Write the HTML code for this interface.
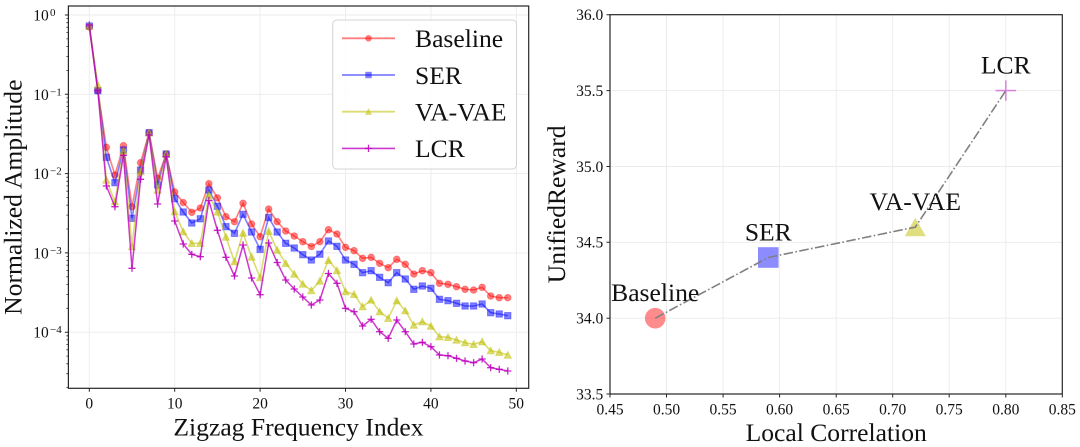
<!DOCTYPE html>
<html><head><meta charset="utf-8"><style>
html,body{margin:0;padding:0;background:#fff;}
svg{display:block;}
text{font-family:"Liberation Serif","Times New Roman",serif;fill:#111;}
</style></head><body>
<svg width="1080" height="447" viewBox="0 0 1080 447" xmlns="http://www.w3.org/2000/svg">
<defs>
<marker id="mr" viewBox="-6 -6 12 12" markerWidth="12" markerHeight="12" refX="0" refY="0" markerUnits="userSpaceOnUse"><circle r="3.3" fill="#ff0000" fill-opacity="0.5" stroke="#ff0000" stroke-opacity="0.35" stroke-width="1"/></marker>
<marker id="mb" viewBox="-6 -6 12 12" markerWidth="12" markerHeight="12" refX="0" refY="0" markerUnits="userSpaceOnUse"><rect x="-3.2" y="-3.2" width="6.4" height="6.4" fill="#0000ff" fill-opacity="0.5" stroke="#0000ff" stroke-opacity="0.35" stroke-width="1"/></marker>
<marker id="my" viewBox="-6 -6 12 12" markerWidth="12" markerHeight="12" refX="0" refY="0" markerUnits="userSpaceOnUse"><polygon points="0,-3.6 -3.6,3.2 3.6,3.2" fill="#bfbf00" fill-opacity="0.55" stroke="#bfbf00" stroke-opacity="0.4" stroke-width="1"/></marker>
<marker id="mm" viewBox="-6 -6 12 12" markerWidth="12" markerHeight="12" refX="0" refY="0" markerUnits="userSpaceOnUse"><path d="M-3.6 0H3.6M0 -3.6V3.6" stroke="#bf00bf" stroke-opacity="0.85" stroke-width="1.3" fill="none"/></marker>
</defs>

<!-- ============ LEFT CHART ============ -->
<g stroke="#ebebeb" stroke-width="0.9">
<path d="M89.3 6V388.3M174.7 6V388.3M260.1 6V388.3M345.5 6V388.3M430.9 6V388.3M516.3 6V388.3"/>
<path d="M68.4 15H528.7M68.4 94.3H528.7M68.4 173.6H528.7M68.4 252.9H528.7M68.4 332.2H528.7"/>
</g>

<polyline fill="none" stroke="#ff0000" stroke-opacity="0.5" stroke-width="1.6" marker-start="url(#mr)" marker-mid="url(#mr)" marker-end="url(#mr)" points="89.3,27 97.84,90.7 106.38,147.3 114.92,175 123.46,145.7 132,206.7 140.54,162.7 149.08,132.7 157.62,178.3 166.16,154 174.7,192 183.24,202.5 191.78,212.3 200.32,208 208.86,183.7 217.4,197.8 225.94,216.7 234.48,221.7 243.02,203.3 251.56,224 260.1,236.7 268.64,209 277.18,221.7 285.72,231 294.26,236 302.8,241.7 311.34,246.5 319.88,241.7 328.42,229.7 336.96,234 345.5,247.3 354.04,250.7 362.58,258.3 371.12,257.3 379.66,263.3 388.2,267.7 396.74,259.3 405.28,264.3 413.82,274 422.36,270.7 430.9,272.7 439.44,283.3 447.98,284.3 456.52,286.7 465.06,289.3 473.6,290 482.14,287.3 490.68,296 499.22,297.7 507.76,297.7"/>

<polyline fill="none" stroke="#0000ff" stroke-opacity="0.5" stroke-width="1.6" marker-start="url(#mb)" marker-mid="url(#mb)" marker-end="url(#mb)" points="89.3,26 97.84,90.7 106.38,157.3 114.92,182.7 123.46,150 132,218.3 140.54,170 149.08,132.7 157.62,185 166.16,154 174.7,198.7 183.24,212 191.78,223 200.32,218.8 208.86,190 217.4,206.3 225.94,226.7 234.48,233.3 243.02,214.3 251.56,232 260.1,249.3 268.64,217.5 277.18,232 285.72,243.3 294.26,248 302.8,254.7 311.34,260 319.88,254.2 328.42,241 336.96,246.3 345.5,260 354.04,264.3 362.58,272.7 371.12,270.7 379.66,277.3 388.2,282.7 396.74,272.7 405.28,279 413.82,289.3 422.36,286 430.9,288.3 439.44,299.3 447.98,300.7 456.52,303.3 465.06,306 473.6,306 482.14,304 490.68,312.7 499.22,314 507.76,315.7"/>

<polyline fill="none" stroke="#bfbf00" stroke-opacity="0.55" stroke-width="1.6" marker-start="url(#my)" marker-mid="url(#my)" marker-end="url(#my)" points="89.3,26 97.84,85 106.38,180 114.92,201.7 123.46,150.7 132,246.7 140.54,171.7 149.08,132.7 157.62,190 166.16,154 174.7,211.7 183.24,231.7 191.78,243.3 200.32,243.3 208.86,195 217.4,212 225.94,237 234.48,261.7 243.02,233 251.56,257 260.1,277.5 268.64,231.3 277.18,250 285.72,263.3 294.26,274 302.8,284 311.34,290.5 319.88,281 328.42,260.3 336.96,270.5 345.5,291.7 354.04,294.3 362.58,306.7 371.12,300 379.66,311.7 388.2,318.3 396.74,300.7 405.28,310.7 413.82,325 422.36,321.7 430.9,326 439.44,336.7 447.98,337.3 456.52,340 465.06,342.7 473.6,344.3 482.14,341.7 490.68,350.7 499.22,352.3 507.76,355"/>

<polyline fill="none" stroke="#bf00bf" stroke-opacity="0.78" stroke-width="1.5" marker-start="url(#mm)" marker-mid="url(#mm)" marker-end="url(#mm)" points="89.3,25 97.84,90.7 106.38,186 114.92,206.7 123.46,155.3 132,268.3 140.54,179.3 149.08,135 157.62,204 166.16,156.7 174.7,221 183.24,244 191.78,254.3 200.32,256.7 208.86,200.5 217.4,230.3 225.94,257.3 234.48,276 243.02,245 251.56,278 260.1,294.7 268.64,243 277.18,262.5 285.72,280 294.26,289 302.8,297 311.34,305 319.88,300 328.42,273.5 336.96,283.3 345.5,308.3 354.04,311.7 362.58,326 371.12,319.3 379.66,331.7 388.2,338.3 396.74,320 405.28,331.7 413.82,344 422.36,342.3 430.9,346.7 439.44,355 447.98,355.7 456.52,358.3 465.06,361 473.6,362.7 482.14,359 490.68,367.7 499.22,369.3 507.76,371"/>

<!-- spines & ticks -->
<rect x="68.4" y="6" width="460.3" height="382.3" fill="none" stroke="#262626" stroke-width="1.2"/>
<g stroke="#262626" stroke-width="1">
<path d="M89.3 388.3v3.5M174.7 388.3v3.5M260.1 388.3v3.5M345.5 388.3v3.5M430.9 388.3v3.5M516.3 388.3v3.5"/>
<path d="M68.4 15h-3.5M68.4 94.3h-3.5M68.4 173.6h-3.5M68.4 252.9h-3.5M68.4 332.2h-3.5"/>
<path stroke-width="0.8" d="M68.4 387.6h-2M68.4 373.7h-2M68.4 363.8h-2M68.4 356.1h-2M68.4 349.8h-2M68.4 344.5h-2M68.4 339.9h-2M68.4 335.8h-2M68.4 308.3h-2M68.4 294.4h-2M68.4 284.5h-2M68.4 276.8h-2M68.4 270.5h-2M68.4 265.2h-2M68.4 260.6h-2M68.4 256.5h-2M68.4 229h-2M68.4 215.1h-2M68.4 205.2h-2M68.4 197.5h-2M68.4 191.2h-2M68.4 185.9h-2M68.4 181.3h-2M68.4 177.2h-2M68.4 149.7h-2M68.4 135.8h-2M68.4 125.9h-2M68.4 118.2h-2M68.4 111.9h-2M68.4 106.6h-2M68.4 102h-2M68.4 97.9h-2M68.4 70.4h-2M68.4 56.5h-2M68.4 46.6h-2M68.4 38.9h-2M68.4 32.6h-2M68.4 27.3h-2M68.4 22.7h-2M68.4 18.6h-2"/>
</g>

<!-- left tick labels -->
<g font-size="15.5" text-anchor="middle">
<text x="89.3" y="408.5">0</text>
<text x="174.7" y="408.5">10</text>
<text x="260.1" y="408.5">20</text>
<text x="345.5" y="408.5">30</text>
<text x="430.9" y="408.5">40</text>
<text x="516.3" y="408.5">50</text>
</g>
<g font-size="15.5">
<text x="33.3" y="20.5">10</text>
<text x="33.3" y="99.8">10</text>
<text x="33.3" y="179.1">10</text>
<text x="33.3" y="258.4">10</text>
<text x="33.3" y="337.7">10</text>
</g>
<g font-size="11">
<text x="50" y="16">0</text>
<text x="50" y="95.3">−1</text>
<text x="50" y="174.6">−2</text>
<text x="50" y="253.9">−3</text>
<text x="50" y="333.2">−4</text>
</g>

<text x="298.5" y="435.5" font-size="25.6" text-anchor="middle">Zigzag Frequency Index</text>
<text transform="translate(21.5,197.2) rotate(-90)" x="0" y="0" font-size="25.6" text-anchor="middle">Normalized Amplitude</text>

<!-- legend -->
<rect x="332.7" y="20" width="183.8" height="149" rx="4" ry="4" fill="#fff" fill-opacity="0.85" stroke="#d4d4d4" stroke-width="1"/>
<path d="M342 38.3H395" stroke="#ff0000" stroke-opacity="0.5" stroke-width="1.8"/>
<circle cx="368.5" cy="38.3" r="3.3" fill="#ff0000" fill-opacity="0.5"/>
<path d="M342 75H395" stroke="#0000ff" stroke-opacity="0.5" stroke-width="1.8"/>
<rect x="365.3" y="71.8" width="6.4" height="6.4" fill="#0000ff" fill-opacity="0.5"/>
<path d="M342 111.7H395" stroke="#bfbf00" stroke-opacity="0.55" stroke-width="1.8"/>
<polygon points="368.5,108.1 364.9,114.9 372.1,114.9" fill="#bfbf00" fill-opacity="0.55"/>
<path d="M342 148.4H395" stroke="#bf00bf" stroke-opacity="0.78" stroke-width="1.6"/>
<path d="M364.9 148.4h7.2M368.5 144.8v7.2" stroke="#bf00bf" stroke-opacity="0.85" stroke-width="1.3"/>
<g font-size="25.6">
<text x="415" y="47.1">Baseline</text>
<text x="415" y="83.8">SER</text>
<text x="415" y="120.5">VA-VAE</text>
<text x="415" y="157.2">LCR</text>
</g>

<!-- ============ RIGHT CHART ============ -->
<g stroke="#ebebeb" stroke-width="0.9">
<path d="M666.5 14.7V394M723.1 14.7V394M779.6 14.7V394M836.2 14.7V394M892.7 14.7V394M949.2 14.7V394M1005.8 14.7V394"/>
<path d="M610 90.6H1062.3M610 166.5H1062.3M610 242.3H1062.3M610 318.2H1062.3"/>
</g>

<!-- markers -->
<circle cx="655.2" cy="318.2" r="10.3" fill="#ff0000" fill-opacity="0.45"/>
<rect x="758" y="247.2" width="20.6" height="20.6" fill="#0000ff" fill-opacity="0.45"/>
<polygon points="915.3,217.9 904.7,236.3 925.9,236.3" fill="#bfbf00" fill-opacity="0.5"/>
<path d="M995.5 90.6h20.6M1005.8 80.4v20.4" stroke="#bf00bf" stroke-opacity="0.45" stroke-width="1.6"/>

<polyline fill="none" stroke="#808080" stroke-width="1.6" stroke-dasharray="9.6 2.4 1.6 2.4" points="655.2,318.2 768.3,257.5 915.3,227.1 1005.8,90.6"/>

<g font-size="25.6" text-anchor="middle">
<text x="655.2" y="301">Baseline</text>
<text x="768.3" y="240.5">SER</text>
<text x="915.3" y="210">VA-VAE</text>
<text x="1005.8" y="73.6">LCR</text>
</g>

<rect x="610" y="14.7" width="452.3" height="379.3" fill="none" stroke="#262626" stroke-width="1.2"/>
<g stroke="#262626" stroke-width="1">
<path d="M610 394v3.5M666.5 394v3.5M723.1 394v3.5M779.6 394v3.5M836.2 394v3.5M892.7 394v3.5M949.2 394v3.5M1005.8 394v3.5M1062.3 394v3.5"/>
<path d="M610 14.7h-3.5M610 90.6h-3.5M610 166.5h-3.5M610 242.3h-3.5M610 318.2h-3.5M610 394h-3.5"/>
</g>

<g font-size="15.5" text-anchor="middle">
<text x="610" y="414.5">0.45</text>
<text x="666.5" y="414.5">0.50</text>
<text x="723.1" y="414.5">0.55</text>
<text x="779.6" y="414.5">0.60</text>
<text x="836.2" y="414.5">0.65</text>
<text x="892.7" y="414.5">0.70</text>
<text x="949.2" y="414.5">0.75</text>
<text x="1005.8" y="414.5">0.80</text>
<text x="1062.3" y="414.5">0.85</text>
</g>
<g font-size="15.5" text-anchor="end">
<text x="603.3" y="20">36.0</text>
<text x="603.3" y="95.9">35.5</text>
<text x="603.3" y="171.8">35.0</text>
<text x="603.3" y="247.6">34.5</text>
<text x="603.3" y="323.5">34.0</text>
<text x="603.3" y="399.3">33.5</text>
</g>

<text x="836.2" y="441" font-size="25.6" text-anchor="middle">Local Correlation</text>
<text transform="translate(565,204.3) rotate(-90)" x="0" y="0" font-size="25.6" text-anchor="middle">UnifiedReward</text>
</svg>
</body></html>
